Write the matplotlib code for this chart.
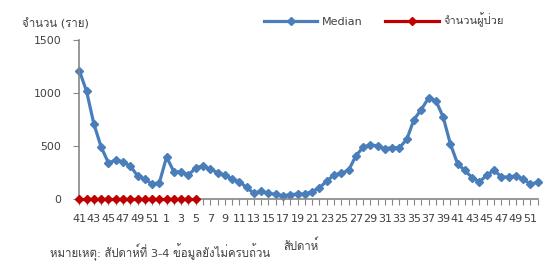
import matplotlib
matplotlib.use("Agg")
import matplotlib.pyplot as plt
from matplotlib import font_manager
from matplotlib.ft2font import FT2Font
from matplotlib.lines import Line2D

# pick an installed font that has Thai glyphs
thai_family = None
for fe in font_manager.fontManager.ttflist:
    try:
        cm = FT2Font(fe.fname).get_charmap()
    except Exception:
        continue
    if 0x0E08 in cm and 0x0E2A in cm:
        thai_family = fe.name
        break
families = ["DejaVu Sans"] + ([thai_family] if thai_family else [])
plt.rcParams['font.family'] = families

weeks = [str(w) for w in range(41, 53)] + [str(w) for w in range(1, 53)]
median = [1212, 1016, 709, 491, 341, 366, 350, 312, 219, 188, 141, 153,
          397, 256, 256, 225, 294, 312, 281, 250, 225, 188, 162, 109,
          53, 75, 53, 44, 31, 41, 47, 47, 69, 106, 169, 225, 244, 269,
          406, 488, 512, 500, 475, 484, 484, 562, 750, 844, 953, 928,
          775, 519, 331, 269, 200, 162, 225, 272, 209, 206, 219, 188,
          141, 156]
patients = [0] * 17

ylabel_text = "จำนวน (ราย)"
xlabel_text = "สัปดาห์"
note_text = "หมายเหตุ: สัปดาห์ที่ 3-4 ข้อมูลยังไม่ครบถ้วน"
legend_labels = ["Median", "จำนวนผู้ป่วย"]

blue = "#4A7EBB"
red = "#C00000"
txt = "#404040"
spine = "#868686"

fig = plt.figure(figsize=(5.51, 2.61), dpi=100)
ax = fig.add_axes([79.3 / 551, 62 / 261, (537.7 - 79.3) / 551, 159 / 261])

x_med = list(range(len(median)))
x_pat = list(range(len(patients)))
ax.plot(x_med, median, color=blue, lw=2.3, marker="D", ms=3.8, mfc=blue, mec=blue, clip_on=False)
ax.plot(x_pat, patients, color=red, lw=2.3, marker="D", ms=3.8, mfc=red, mec=red, clip_on=False, zorder=5)

ax.set_xlim(0, len(weeks) - 1)
ax.set_ylim(0, 1500)
ax.set_yticks([0, 500, 1000, 1500])
ax.set_xticks(range(len(weeks)))
ax.set_xticklabels([w if i % 2 == 0 else "" for i, w in enumerate(weeks)])
ax.tick_params(axis="x", length=4, width=0.8, color=spine, labelsize=8, labelcolor=txt, pad=7)
ax.tick_params(axis="y", length=4, width=0.8, color=spine, labelsize=7.8, labelcolor=txt, pad=9)
for s in ["top", "right"]:
    ax.spines[s].set_visible(False)
for s in ["left", "bottom"]:
    ax.spines[s].set_color(spine)
    ax.spines[s].set_linewidth(1.2)

fig.text(22 / 551, 1 - 24 / 261, ylabel_text, fontsize=8.2, color=txt, va="center", ha="left")
fig.text(283 / 551, 1 - 245 / 261, xlabel_text, fontsize=8.2, color=txt, va="center", ha="left")
fig.text(50 / 551, 1 - 252 / 261, note_text, fontsize=8.2, color=txt, va="center", ha="left")

handles = [Line2D([], [], color=blue, lw=2.3, marker="D", ms=3.8),
           Line2D([], [], color=red, lw=2.3, marker="D", ms=3.8)]
fig.legend(handles, legend_labels, loc="center left", bbox_to_anchor=(264 / 551, 1 - 20 / 261),
           ncol=2, frameon=False, fontsize=8, labelcolor=txt, handlelength=4.8,
           columnspacing=2.0, handletextpad=0.45, borderaxespad=0, borderpad=0)

fig.savefig("out.png", dpi=100)
